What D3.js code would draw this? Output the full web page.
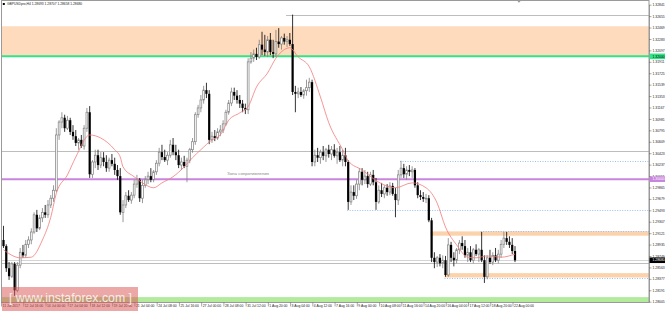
<!DOCTYPE html>
<html>
<head>
<meta charset="utf-8">
<script src="https://cdn.jsdelivr.net/npm/d3@7"></script>
<style>
html, body { margin: 0; padding: 0; background: #fff; }
svg { display: block; font-family: "Liberation Sans", Arial, sans-serif; }
</style>
</head>
<body>
<svg id="chart"></svg>
<script>
var title = "GBPUSDpro,H4  1.28693 1.28707 1.28658 1.28680";
var zoneText = "Зона сопротивления";
var watermark = "[ www.instaforex.com ]";

var times = ["11 Jul 2017", "12 Jul 16:00", "14 Jul 00:00", "17 Jul 04:00", "18 Jul 12:00", "19 Jul 20:00",
    "21 Jul 04:00", "24 Jul 08:00", "25 Jul 16:00", "27 Jul 00:00", "28 Jul 08:00", "31 Jul 12:00",
    "1 Aug 20:00", "3 Aug 04:00", "4 Aug 12:00", "7 Aug 16:00", "9 Aug 00:00", "10 Aug 08:00",
    "11 Aug 16:00", "14 Aug 20:00", "16 Aug 04:00", "17 Aug 12:00", "18 Aug 20:00", "22 Aug 00:00"];

var priceTicks = [1.28005, 1.28191, 1.28377, 1.28563, 1.28749, 1.28935, 1.29121, 1.29307, 1.29493,
    1.29679, 1.29865, 1.30051, 1.30237, 1.30423, 1.30609, 1.30795, 1.30981, 1.31167, 1.31353,
    1.31539, 1.31725, 1.31911, 1.32097, 1.32283, 1.32469, 1.32655, 1.32841];

// H4 candles: open, high, low, close
var ohlc = [
    [1.2901,1.2924,1.2888,1.2891],[1.2891,1.2894,1.2849,1.2855],[1.2855,1.2865,1.2836,1.2842],[1.2842,1.2865,1.2839,1.2862],
    [1.2862,1.2865,1.2810,1.2819],[1.2819,1.2865,1.2816,1.2860],[1.2860,1.2888,1.2855,1.2881],[1.2881,1.2893,1.2872,1.2876],
    [1.2876,1.2901,1.2872,1.2894],[1.2894,1.2907,1.2888,1.2901],[1.2901,1.2920,1.2894,1.2914],[1.2914,1.2946,1.2911,1.2942],
    [1.2942,1.2950,1.2914,1.2920],[1.2920,1.2942,1.2917,1.2937],[1.2937,1.2953,1.2930,1.2946],[1.2946,1.2958,1.2937,1.2942],
    [1.2942,1.2966,1.2937,1.2958],[1.2958,1.2974,1.2953,1.2969],[1.2969,1.2990,1.2963,1.2982],[1.2982,1.3083,1.2979,1.3072],
    [1.3072,1.3096,1.3064,1.3093],[1.3093,1.3109,1.3083,1.3100],[1.3100,1.3105,1.3077,1.3083],[1.3083,1.3103,1.3080,1.3096],
    [1.3096,1.3100,1.3072,1.3077],[1.3077,1.3088,1.3064,1.3070],[1.3070,1.3080,1.3054,1.3059],[1.3059,1.3067,1.3048,1.3064],
    [1.3064,1.3072,1.3051,1.3054],[1.3054,1.3088,1.3048,1.3083],[1.3083,1.3116,1.3077,1.3109],[1.3109,1.3119,1.3002,1.3008],
    [1.3008,1.3031,1.3002,1.3028],[1.3028,1.3048,1.3018,1.3039],[1.3039,1.3048,1.3015,1.3023],[1.3023,1.3044,1.3018,1.3035],
    [1.3035,1.3044,1.3021,1.3028],[1.3028,1.3039,1.3012,1.3018],[1.3018,1.3035,1.3012,1.3031],[1.3031,1.3041,1.3021,1.3025],
    [1.3025,1.3035,1.3007,1.3015],[1.3015,1.3023,1.2999,1.3005],[1.3005,1.3018,1.2942,1.2946],[1.2946,1.2966,1.2930,1.2958],
    [1.2958,1.2979,1.2953,1.2973],[1.2973,1.2982,1.2963,1.2966],[1.2966,1.2979,1.2960,1.2974],[1.2974,1.2999,1.2969,1.2992],
    [1.2992,1.3007,1.2986,1.2999],[1.2999,1.3002,1.2963,1.2969],[1.2969,1.2999,1.2961,1.2990],[1.2990,1.3005,1.2986,1.2999],
    [1.2999,1.3012,1.2992,1.3005],[1.3005,1.3018,1.2995,1.2999],[1.2999,1.3015,1.2995,1.3012],[1.3012,1.3031,1.3007,1.3026],
    [1.3026,1.3051,1.3021,1.3044],[1.3044,1.3056,1.3031,1.3036],[1.3036,1.3048,1.3028,1.3031],[1.3031,1.3044,1.3023,1.3039],
    [1.3039,1.3064,1.3035,1.3056],[1.3056,1.3067,1.3039,1.3044],[1.3044,1.3056,1.3031,1.3039],[1.3039,1.3048,1.3018,1.3023],
    [1.3023,1.3035,1.3015,1.3028],[1.3028,1.3038,1.3018,1.3021],[1.3021,1.3035,1.2995,1.3031],[1.3031,1.3051,1.3026,1.3048],
    [1.3048,1.3067,1.3043,1.3061],[1.3061,1.3109,1.3056,1.3105],[1.3105,1.3121,1.3100,1.3116],[1.3116,1.3137,1.3109,1.3129],
    [1.3129,1.3152,1.3123,1.3145],[1.3145,1.3157,1.3132,1.3139],[1.3139,1.3145,1.3057,1.3064],[1.3064,1.3077,1.3059,1.3070],
    [1.3070,1.3080,1.3062,1.3067],[1.3067,1.3083,1.3064,1.3077],[1.3077,1.3088,1.3070,1.3080],[1.3080,1.3096,1.3075,1.3090],
    [1.3090,1.3113,1.3087,1.3109],[1.3109,1.3129,1.3105,1.3124],[1.3124,1.3149,1.3119,1.3142],[1.3142,1.3149,1.3129,1.3136],
    [1.3136,1.3145,1.3123,1.3129],[1.3129,1.3137,1.3116,1.3123],[1.3123,1.3129,1.3109,1.3116],[1.3116,1.3123,1.3106,1.3113],
    [1.3113,1.3197,1.3106,1.3191],[1.3191,1.3207,1.3188,1.3197],[1.3197,1.3211,1.3191,1.3204],[1.3204,1.3214,1.3194,1.3199],
    [1.3199,1.3227,1.3196,1.3219],[1.3219,1.3240,1.3202,1.3211],[1.3211,1.3235,1.3201,1.3207],[1.3207,1.3233,1.3199,1.3227],
    [1.3227,1.3238,1.3202,1.3207],[1.3207,1.3227,1.3197,1.3204],[1.3204,1.3243,1.3199,1.3224],[1.3224,1.3246,1.3214,1.3220],
    [1.3220,1.3233,1.3211,1.3230],[1.3230,1.3237,1.3219,1.3224],[1.3224,1.3233,1.3215,1.3227],[1.3227,1.3238,1.3217,1.3220],
    [1.3220,1.3268,1.3137,1.3142],[1.3142,1.3152,1.3109,1.3139],[1.3139,1.3149,1.3132,1.3142],[1.3142,1.3150,1.3134,1.3137],
    [1.3137,1.3147,1.3131,1.3144],[1.3144,1.3162,1.3136,1.3149],[1.3149,1.3165,1.3142,1.3158],[1.3158,1.3162,1.3021,1.3028],
    [1.3028,1.3048,1.3021,1.3039],[1.3039,1.3051,1.3028,1.3035],[1.3035,1.3048,1.3025,1.3044],[1.3044,1.3054,1.3031,1.3038],
    [1.3038,1.3051,1.3028,1.3048],[1.3048,1.3056,1.3035,1.3041],[1.3041,1.3054,1.3031,1.3048],[1.3048,1.3057,1.3035,1.3038],
    [1.3038,1.3051,1.3025,1.3044],[1.3044,1.3054,1.3028,1.3031],[1.3031,1.3048,1.3021,1.3039],[1.3039,1.3051,1.3021,1.3028],
    [1.3028,1.3031,1.2950,1.2963],[1.2963,1.2990,1.2958,1.2979],[1.2979,1.2990,1.2966,1.2973],[1.2973,1.2999,1.2968,1.2992],
    [1.2992,1.3018,1.2982,1.3012],[1.3012,1.3018,1.2990,1.2999],[1.2999,1.3015,1.2992,1.3005],[1.3005,1.3012,1.2986,1.2992],
    [1.2992,1.3012,1.2989,1.3007],[1.3007,1.3015,1.2990,1.2995],[1.2995,1.3002,1.2950,1.2963],[1.2963,1.2990,1.2960,1.2982],
    [1.2982,1.2994,1.2971,1.2976],[1.2976,1.2990,1.2969,1.2986],[1.2986,1.2992,1.2973,1.2979],[1.2979,1.2995,1.2974,1.2989],
    [1.2989,1.2994,1.2973,1.2976],[1.2976,1.2986,1.2938,1.2966],[1.2966,1.3015,1.2958,1.3007],[1.3007,1.3030,1.3002,1.3018],
    [1.3018,1.3025,1.3002,1.3008],[1.3008,1.3021,1.2999,1.3015],[1.3015,1.3023,1.3005,1.3012],[1.3012,1.3021,1.3002,1.3015],
    [1.3015,1.3018,1.2986,1.2990],[1.2990,1.2995,1.2969,1.2974],[1.2974,1.2982,1.2966,1.2971],[1.2971,1.2979,1.2963,1.2968],
    [1.2968,1.2976,1.2961,1.2969],[1.2969,1.2974,1.2930,1.2933],[1.2933,1.2937,1.2865,1.2872],[1.2872,1.2881,1.2855,1.2865],
    [1.2865,1.2875,1.2857,1.2872],[1.2872,1.2878,1.2858,1.2863],[1.2863,1.2876,1.2855,1.2868],[1.2868,1.2875,1.2841,1.2844],
    [1.2844,1.2904,1.2841,1.2893],[1.2893,1.2898,1.2865,1.2872],[1.2872,1.2881,1.2858,1.2868],[1.2868,1.2888,1.2863,1.2885],
    [1.2885,1.2901,1.2878,1.2896],[1.2896,1.2907,1.2885,1.2891],[1.2891,1.2901,1.2872,1.2876],[1.2876,1.2888,1.2865,1.2881],
    [1.2881,1.2891,1.2865,1.2868],[1.2868,1.2888,1.2863,1.2885],[1.2885,1.2894,1.2875,1.2878],[1.2878,1.2888,1.2865,1.2885],
    [1.2885,1.2914,1.2865,1.2868],[1.2868,1.2876,1.2831,1.2841],[1.2841,1.2876,1.2837,1.2872],[1.2872,1.2885,1.2862,1.2865],
    [1.2865,1.2881,1.2860,1.2876],[1.2876,1.2888,1.2865,1.2868],[1.2868,1.2885,1.2863,1.2878],[1.2878,1.2901,1.2872,1.2894],
    [1.2894,1.2914,1.2888,1.2904],[1.2904,1.2914,1.2893,1.2898],[1.2898,1.2907,1.2888,1.2893],[1.2893,1.2904,1.2878,1.2883],
    [1.2883,1.2891,1.2865,1.2868]
];

// moving average (bar index, price)
var maIdx = [0, 6, 10, 14, 17, 19, 23, 26, 31, 35, 40, 42, 43, 47, 50, 54, 57, 61, 65, 68, 71, 75, 78, 81, 85, 88,
    91, 95, 98, 101, 103, 106, 110, 114, 117, 122, 124, 129, 135, 141, 147, 152, 156, 159, 163, 167, 170, 174, 179, 184];
var maVal = [1.2885, 1.2872, 1.2873, 1.2901, 1.2938, 1.2977, 1.3007, 1.3036, 1.3072, 1.3067, 1.3048, 1.3036, 1.3020,
    1.3004, 1.2994, 1.2986, 1.2994, 1.3004, 1.3020, 1.3035, 1.3048, 1.3064, 1.3072, 1.3096, 1.3108, 1.3118,
    1.3150, 1.3173, 1.3197, 1.3211, 1.3214, 1.3199, 1.3183, 1.3134, 1.3092, 1.3048, 1.3030, 1.3015, 1.2995,
    1.2986, 1.2994, 1.2986, 1.2961, 1.2922, 1.2893, 1.2873, 1.2872, 1.2875, 1.2873, 1.2878];

// zones drawn as rectangles: top price, bottom price, first bar (0 = from the left edge)
var bandTop = [1.3249, 1.2915, 1.2847, 1.2808];
var bandBottom = [1.3200, 1.2908, 1.2840, 1.2799];
var bandStart = [0, 154, 159, 0];
var bandColor = ["#fddbbc", "#fbd2ab", "#fbd2ab", "#b3eb9c"];

var dottedLevels = [1.3030, 1.2950, 1.2915, 1.2839];
var dottedStart = [143, 124, 172, 159];

var grayLevels = [1.3268, 1.3046, 1.2868, 1.2864];
var grayStart = [102, 0, 0, 0];

var supportLevel = 1.3200;
var resistLevel = 1.3000;
var lastPrice = 1.2868;

var W = 665, H = 311;
var plot = {left: 1.5, right: 649, top: 0.5, bottom: 302.5};

var svg = d3.select("#chart").attr("width", W).attr("height", H);

var x = d3.scaleLinear().domain([0, ohlc.length - 1]).range([3.5, 515]);
var y = d3.scaleLinear().domain([1.28005, 1.32841]).range([301.7, 4.7]);

function startX(i) {
    return i === 0 ? plot.left : x(i) - 1;
}

svg.append("clipPath").attr("id", "plotclip").append("rect")
    .attr("x", plot.left).attr("y", plot.top)
    .attr("width", plot.right - plot.left).attr("height", plot.bottom - plot.top);

var g = svg.append("g").attr("clip-path", "url(#plotclip)");

// zones
g.selectAll(".band")
    .data(bandTop)
    .enter().append("rect")
    .attr("class", "band")
    .attr("x", function (d, i) { return startX(bandStart[i]); })
    .attr("y", function (d) { return y(d); })
    .attr("width", function (d, i) { return plot.right - startX(bandStart[i]); })
    .attr("height", function (d, i) { return y(bandBottom[i]) - y(d); })
    .attr("fill", function (d, i) { return bandColor[i]; });

g.selectAll(".gray")
    .data(grayLevels)
    .enter().append("line")
    .attr("x1", function (d, i) { return startX(grayStart[i]); })
    .attr("x2", plot.right)
    .attr("y1", function (d) { return Math.round(y(d)) + 0.5; })
    .attr("y2", function (d) { return Math.round(y(d)) + 0.5; })
    .attr("stroke", function (d, i) { return i === 2 ? "#d4d4d4" : "#bdbdbd"; })
    .attr("stroke-width", 1);

g.selectAll(".dot")
    .data(dottedLevels)
    .enter().append("line")
    .attr("x1", function (d, i) { return startX(dottedStart[i]); })
    .attr("x2", plot.right)
    .attr("y1", function (d) { return Math.round(y(d)) + 0.5; })
    .attr("y2", function (d) { return Math.round(y(d)) + 0.5; })
    .attr("stroke", "#7fb0ea")
    .attr("stroke-width", 0.8)
    .attr("stroke-dasharray", "1,1.5");

g.append("line")
    .attr("x1", plot.left).attr("x2", plot.right)
    .attr("y1", y(supportLevel)).attr("y2", y(supportLevel))
    .attr("stroke", "#33e486").attr("stroke-width", 2);

g.append("line")
    .attr("x1", plot.left).attr("x2", plot.right)
    .attr("y1", y(resistLevel)).attr("y2", y(resistLevel))
    .attr("stroke", "#c985de").attr("stroke-width", 2);

g.append("text")
    .attr("x", 227).attr("y", y(resistLevel) - 4.3)
    .attr("fill", "#8a8a8a")
    .style("font-size", "4.4px")
    .text(zoneText);

// candles
var candle = g.selectAll(".candle")
    .data(ohlc)
    .enter().append("g")
    .attr("class", "candle");

candle.append("line")
    .attr("x1", function (d, i) { return x(i); })
    .attr("x2", function (d, i) { return x(i); })
    .attr("y1", function (d) { return y(d[1]); })
    .attr("y2", function (d) { return y(d[2]); })
    .attr("stroke", function (d) { return d[3] >= d[0] ? "#808080" : "#000"; })
    .attr("stroke-width", 0.8);

candle.append("rect")
    .attr("x", function (d, i) { return d[3] >= d[0] ? x(i) - 0.9 : x(i) - 1.1; })
    .attr("width", function (d) { return d[3] >= d[0] ? 1.8 : 2.2; })
    .attr("y", function (d) { return y(Math.max(d[0], d[3])); })
    .attr("height", function (d) { return Math.max(0.8, Math.abs(y(d[0]) - y(d[3]))); })
    .attr("fill", function (d) { return d[3] >= d[0] ? "#fff" : "#000"; })
    .attr("stroke", function (d) { return d[3] >= d[0] ? "#808080" : "none"; })
    .attr("stroke-width", 0.7);

// moving average
var maLine = d3.line()
    .x(function (d) { return x(d); })
    .y(function (d, i) { return y(maVal[i]); })
    .curve(d3.curveMonotoneX);

g.append("path")
    .attr("d", maLine(maIdx))
    .attr("fill", "none")
    .attr("stroke", "#f27b7b")
    .attr("stroke-width", 0.8);

// frame
svg.append("rect")
    .attr("x", plot.left).attr("y", plot.top)
    .attr("width", plot.right - plot.left).attr("height", plot.bottom - plot.top)
    .attr("fill", "none").attr("stroke", "#9a9a9a").attr("stroke-width", 1);

svg.append("path")
    .attr("d", "M517,0.5 L521,0.5 L519,2.8 Z")
    .attr("fill", "#9a9a9a");

// time axis
var xAxis = d3.axisBottom(x)
    .tickValues(d3.range(0, ohlc.length, 8))
    .tickFormat(function (d, i) { return times[i]; })
    .tickSize(4)
    .tickSizeOuter(0);

var xg = svg.append("g")
    .attr("transform", "translate(-2.5," + plot.bottom + ")")
    .call(xAxis);
xg.select(".domain").remove();
xg.selectAll("line").attr("stroke", "#555").attr("stroke-width", 0.5);
xg.selectAll("text")
    .attr("text-anchor", "start")
    .attr("x", 1)
    .attr("y", 1.8)
    .attr("fill", "#222")
    .style("font-size", "3.4px")
    .attr("font-family", "Liberation Sans, Arial, sans-serif");

// price axis
var yAxis = d3.axisRight(y)
    .tickValues(priceTicks)
    .tickFormat(function (d) { return d.toFixed(5); })
    .tickSize(2.5)
    .tickSizeOuter(0);

var yg = svg.append("g")
    .attr("transform", "translate(" + plot.right + ",0)")
    .call(yAxis);
yg.select(".domain").attr("stroke", "#9a9a9a");
yg.selectAll("line").attr("stroke", "#555").attr("stroke-width", 0.5);
yg.selectAll("text")
    .attr("x", 3.5)
    .attr("fill", "#222")
    .style("font-size", "3.4px")
    .attr("font-family", "Liberation Sans, Arial, sans-serif");

// price boxes on the axis
var boxes = [[supportLevel, "#33e486", "#000"], [resistLevel, "#c985de", "#fff"], [lastPrice, "#000", "#fff"]];
var box = svg.selectAll(".pbox")
    .data(boxes)
    .enter().append("g")
    .attr("class", "pbox");
box.append("rect")
    .attr("x", plot.right + 0.5)
    .attr("y", function (d) { return y(d[0]) - 2.8; })
    .attr("width", 15.5)
    .attr("height", 5.6)
    .attr("fill", function (d) { return d[1]; });
box.append("text")
    .attr("x", plot.right + 3.5)
    .attr("y", function (d) { return y(d[0]); })
    .attr("dy", "0.35em")
    .attr("fill", function (d) { return d[2]; })
    .style("font-size", "3.4px")
    .text(function (d) { return d[0].toFixed(5); });

// title
svg.append("rect").attr("x", 2.8).attr("y", 3).attr("width", 2).attr("height", 2).attr("fill", "#000");
svg.append("text")
    .attr("x", 7).attr("y", 5.4)
    .attr("fill", "#222")
    .style("font-size", "3.3px")
    .text(title);

// watermark
var wm = svg.append("g");
wm.append("rect")
    .attr("x", 2).attr("y", 287)
    .attr("width", 136).attr("height", 24)
    .attr("fill", "#d94f4f").attr("opacity", 0.5);
wm.append("text")
    .attr("x", 9).attr("y", 301.5)
    .attr("fill", "#fff").attr("opacity", 0.8)
    .attr("textLength", 123).attr("lengthAdjust", "spacingAndGlyphs")
    .style("font-size", "13px")
    .text(watermark);
</script>
</body>
</html>
